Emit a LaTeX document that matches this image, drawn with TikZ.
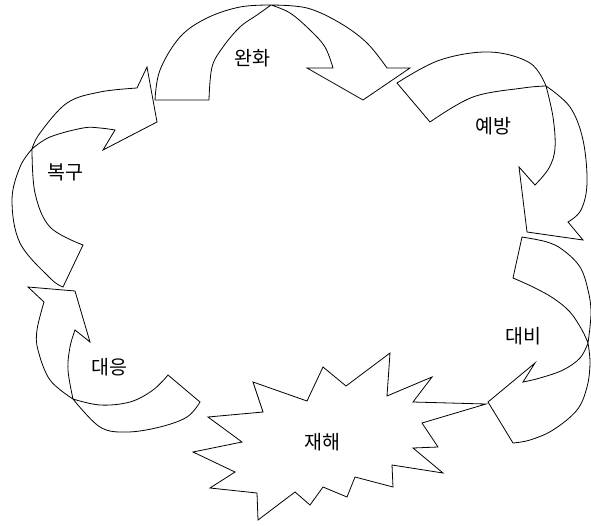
\documentclass[tikz,border=0pt]{standalone}
\usepackage{fontspec}
\newfontfamily\kr{Noto Sans CJK KR}
\tikzset{
  arr/.style={draw=black, line width=0.8pt, line join=miter},
  lbl/.style={font=\kr\fontsize{19.5}{22}\selectfont, inner sep=0pt},
  sm/.style={smooth, tension=0.6}
}
\begin{document}
\begin{tikzpicture}[x=1pt, y=-1pt]
\useasboundingbox (0,0) rectangle (591,525);
% 완화
\draw[arr] (155,100) -- plot[sm] coordinates {(155,100) (160,70) (180,37) (207,18) (240,7) (271,5)}
  -- plot[sm] coordinates {(271,5) (307,8) (340,23) (367,43) (387,68)}
  -- (410,68) -- (363,100) -- (307,68)
  -- plot[sm] coordinates {(333,68) (325,47) (310,30) (290,13) (271,5)}
  -- plot[sm] coordinates {(271,5) (257,15) (240,27) (223,47) (212,67) (209,100)} -- cycle;
% 예방
\draw[arr] (397,83) -- plot[sm] coordinates {(397,83) (440,60) (490,52) (530,63) (546,86)}
  -- plot[sm] coordinates {(546,86) (570,107) (583,140) (587,183) (581,210) (568,222)}
  -- (583,240) -- (527,232) -- (519,167)
  -- plot[sm] coordinates {(535,185) (549,168) (555,148) (553,117) (546,86)}
  -- plot[sm] coordinates {(546,86) (523,88) (473,97) (430,122)} -- cycle;
% 대비
\draw[arr] (522,237) -- plot[sm] coordinates {(522,237) (547,242) (563,250) (580,267) (588,290) (591,313) (588,343)}
  -- plot[sm] coordinates {(588,343) (590,363) (587,387) (577,410) (553,430) (530,440) (513,443)}
  -- (488,402) -- (535,363)
  -- plot[sm] coordinates {(523,382) (540,378) (563,370) (580,358) (588,343)}
  -- plot[sm] coordinates {(588,343) (582,330) (570,312) (553,298) (533,287) (513,278)} -- cycle;
% 대응
\draw[arr] (200,402) -- plot[sm] coordinates {(200,402) (187,417) (160,427) (127,432) (100,427) (73,399)}
  -- plot[sm] coordinates {(73,399) (50,380) (38,350) (37,330) (44,302)}
  -- (28,287) -- (75,291) -- (90,342)
  -- plot[sm] coordinates {(75,330) (70,347) (68,370) (73,399)}
  -- plot[sm] coordinates {(73,399) (100,405) (130,402) (153,390) (168,375)} -- cycle;
% 복구
\draw[arr] (137,88) -- plot[sm] coordinates {(137,88) (100,92) (67,103) (40,133) (32,149)}
  -- plot[sm] coordinates {(32,149) (20,167) (12,200) (20,243) (50,278) (63,287)}
  -- (83,245)
  -- plot[sm] coordinates {(83,245) (50,227) (35,193) (32,149)}
  -- plot[sm] coordinates {(32,149) (50,137) (83,128) (100,128) (115,130)}
  -- (103,150) -- (157,122) -- (147,67) -- cycle;
% 재해
\draw[arr] (253,382) -- (307,401) -- (323,367) -- (346,386) -- (390,353) -- (387,396)
  -- (432,377) -- (413,402) -- (486,404) -- (422,423) -- (438,447) -- (413,448)
  -- (443,473) -- (392,465) -- (393,487) -- (355,477) -- (347,497) -- (323,487)
  -- (310,505) -- (295,492) -- (258,520) -- (257,493) -- (210,488) -- (235,472)
  -- (193,452) -- (242,442) -- (208,417) -- (263,412) -- cycle;
\node[lbl] (t1) at (252,58) {완화};
\node[lbl] (t2) at (493,126) {예방};
\node[lbl] (t3) at (523,336) {대비};
\node[lbl] (t4) at (322,442) {재해};
\node[lbl] (t5) at (109,367) {대응};
\node[lbl] (t6) at (65,172) {복구};
\end{tikzpicture}
\end{document}
